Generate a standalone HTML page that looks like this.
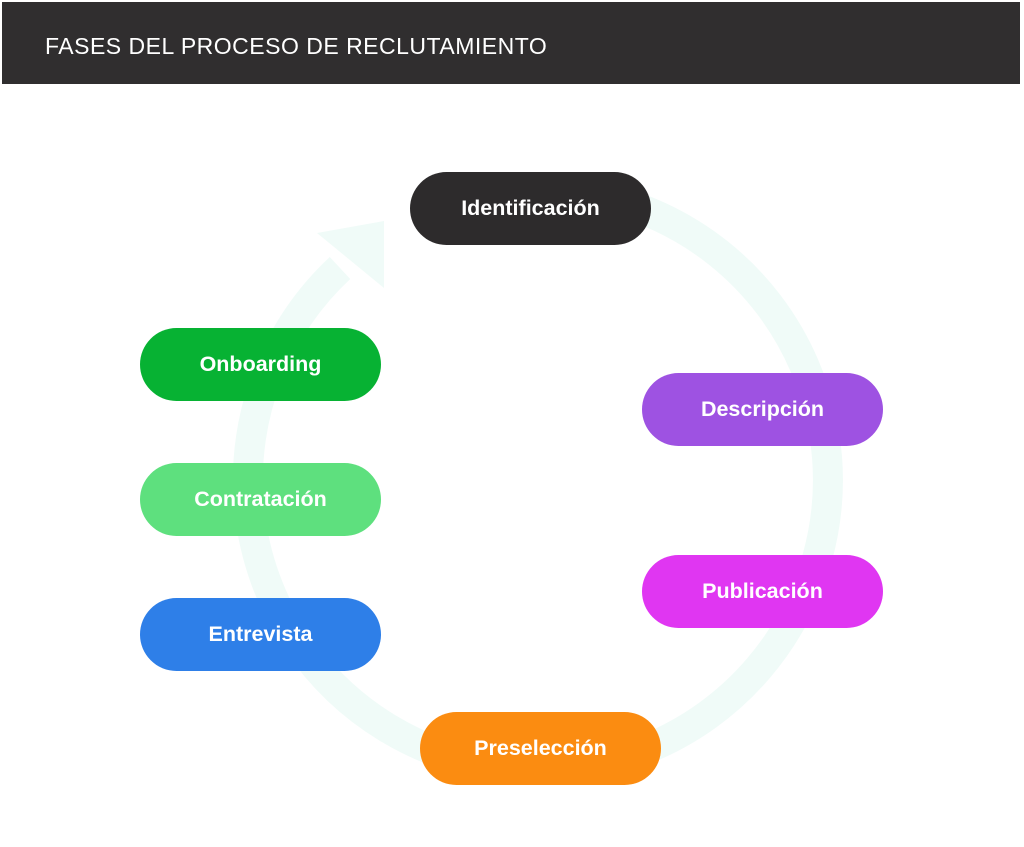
<!DOCTYPE html>
<html><head><meta charset="utf-8"><style>
body{margin:0;width:1024px;height:847px;background:#fff;position:relative;overflow:hidden;font-family:"Liberation Sans",sans-serif}
.hdr{position:absolute;left:2px;top:2px;width:1018px;height:82px;background:#302e2f}
.hdr span{position:absolute;left:43px;top:31px;color:#fff;font-size:23px;letter-spacing:0.5px}
.p{position:absolute;width:241px;height:73px;border-radius:37px;color:#fff;font-weight:bold;font-size:21.5px;display:flex;align-items:center;justify-content:center}
</style></head><body>
<div class="hdr"><span>FASES DEL PROCESO DE RECLUTAMIENTO</span></div>
<svg width="1024" height="847" style="position:absolute;left:0;top:0">
<path d="M537 190 A290 290 0 1 1 340 268" fill="none" stroke="#f0fbf8" stroke-width="30"/>
<polygon points="317,233 384,221 384,288" fill="#f0fbf8"/>
</svg>
<div class="p" style="left:410px;top:172px;background:#2d2b2c">Identificación</div>
<div class="p" style="left:140px;top:328px;background:#07b233">Onboarding</div>
<div class="p" style="left:140px;top:463px;background:#5ee07e">Contratación</div>
<div class="p" style="left:140px;top:598px;background:#2e7fe8">Entrevista</div>
<div class="p" style="left:642px;top:373px;background:#9e52e2">Descripción</div>
<div class="p" style="left:642px;top:555px;background:#e036f2">Publicación</div>
<div class="p" style="left:420px;top:712px;background:#fb8c11">Preselección</div>
</body></html>
